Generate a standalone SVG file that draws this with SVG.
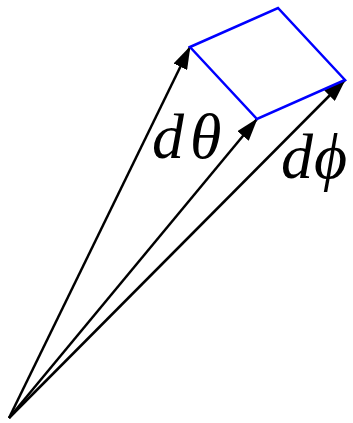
<svg xmlns="http://www.w3.org/2000/svg" width="353" height="423" viewBox="0 0 353 423">
<style>
.arr{stroke:#000;stroke-width:2.5;fill:none;marker-end:url(#ah)}
.lbl{font-family:"Liberation Serif","Times New Roman",serif;font-style:italic;font-size:64px;fill:#000;letter-spacing:6px}
</style>
<defs>
<marker id="ah" viewBox="0 0 23 15" refX="22" refY="7.5" markerWidth="23" markerHeight="15" markerUnits="userSpaceOnUse" orient="auto">
<path d="M0,0 L23,7.5 L0,15 Z" fill="#000"/>
</marker>
</defs>
<rect width="353" height="423" fill="#fff"/>
<g id="connectors">
<line class="arr" x1="9" y1="418" x2="190" y2="47"/>
<line class="arr" x1="9" y1="418" x2="257" y2="119"/>
<line class="arr" x1="9" y1="418" x2="345" y2="80"/>
</g>
<g id="patch">
<polygon points="190,47 278,8 345,80 257,119" fill="none" stroke="#0000ff" stroke-width="2.5"/>
</g>
<g id="label-dtheta"><text class="lbl" x="152" y="158">dθ</text></g>
<g id="label-dphi"><text class="lbl" x="281" y="178" style="letter-spacing:1px">dϕ</text></g>
</svg>
